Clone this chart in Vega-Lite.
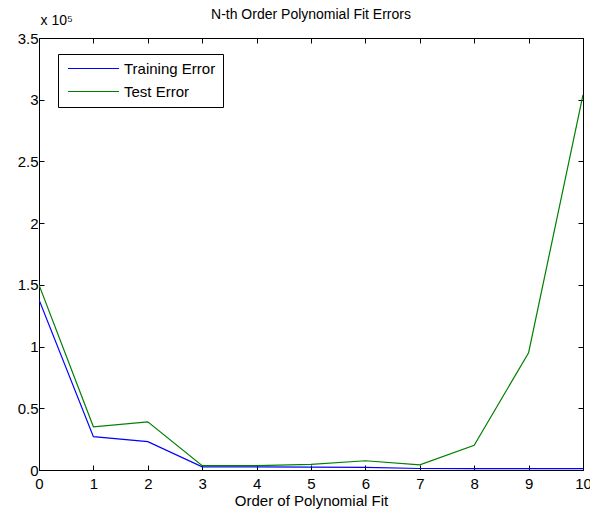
{
  "$schema": "https://vega.github.io/schema/vega-lite/v6.json",
  "width": 544,
  "height": 432,
  "autosize": "none",
  "padding": {"left": 39, "top": 38, "right": 7, "bottom": 46},
  "background": "white",
  "title": {"text": "N-th Order Polynomial Fit Errors", "font": "Liberation Sans", "fontSize": 14, "fontWeight": "normal", "color": "black", "offset": -9},
  "config": {
    "view": {"stroke": "black", "strokeWidth": 1},
    "axis": {"labelFont": "Liberation Sans", "titleFont": "Liberation Sans", "labelColor": "black", "titleColor": "black", "domainColor": "black", "tickColor": "black", "grid": false, "labelFontSize": 15, "titleFontSize": 15, "titleFontWeight": "normal", "tickSize": -5, "labelPadding": 6, "labelOverlap": false, "labelBound": false, "labelFlush": false}
  },
  "data": {"values": [
    {"order": 0, "series": "Training Error", "error": 138000},
    {"order": 1, "series": "Training Error", "error": 27000},
    {"order": 2, "series": "Training Error", "error": 23000},
    {"order": 3, "series": "Training Error", "error": 2500},
    {"order": 4, "series": "Training Error", "error": 2500},
    {"order": 5, "series": "Training Error", "error": 2300},
    {"order": 6, "series": "Training Error", "error": 2200},
    {"order": 7, "series": "Training Error", "error": 1200},
    {"order": 8, "series": "Training Error", "error": 1100},
    {"order": 9, "series": "Training Error", "error": 1100},
    {"order": 10, "series": "Training Error", "error": 1100},
    {"order": 0, "series": "Test Error", "error": 150000},
    {"order": 1, "series": "Test Error", "error": 35000},
    {"order": 2, "series": "Test Error", "error": 39000},
    {"order": 3, "series": "Test Error", "error": 3500},
    {"order": 4, "series": "Test Error", "error": 3500},
    {"order": 5, "series": "Test Error", "error": 4500},
    {"order": 6, "series": "Test Error", "error": 7500},
    {"order": 7, "series": "Test Error", "error": 4200},
    {"order": 8, "series": "Test Error", "error": 20000},
    {"order": 9, "series": "Test Error", "error": 95000},
    {"order": 10, "series": "Test Error", "error": 304000}
  ]},
  "layer": [
    {
      "mark": {"type": "line", "strokeWidth": 1.2, "clip": true},
      "encoding": {
        "x": {"field": "order", "type": "quantitative", "scale": {"domain": [0, 10], "nice": false}, "axis": {"title": "Order of Polynomial Fit", "values": [0,1,2,3,4,5,6,7,8,9,10], "labelPadding": 11, "titlePadding": 2}},
        "y": {"field": "error", "type": "quantitative", "scale": {"domain": [0, 350000], "nice": false}, "axis": {"title": "x 10⁵", "titleAngle": 0, "titleAlign": "left", "titleBaseline": "alphabetic", "titleX": 1, "titleY": -14, "titleFontSize": 14, "values": [0, 50000, 100000, 150000, 200000, 250000, 300000, 350000], "labelExpr": "datum.value / 100000"}},
        "color": {"field": "series", "type": "nominal", "scale": {"domain": ["Training Error", "Test Error"], "range": ["#0000ff", "#008000"]},
          "legend": {"title": null, "orient": "none", "legendX": 19, "legendY": 16, "strokeColor": "black", "fillColor": "white", "padding": 7, "symbolType": "M-4,0H4", "symbolSize": 163, "symbolOffset": 21, "symbolStrokeWidth": 1.2, "labelFont": "Liberation Sans", "labelFontSize": 15, "labelColor": "black", "labelOffset": 23, "rowPadding": 7, "cornerRadius": 0}}
      }
    },
    {
      "mark": {"type": "point", "opacity": 0},
      "encoding": {
        "x": {"field": "order", "type": "quantitative", "scale": {"domain": [0, 10], "nice": false}, "axis": {"orient": "top", "labels": false, "title": null, "domain": false, "values": [0,1,2,3,4,5,6,7,8,9,10]}},
        "y": {"field": "error", "type": "quantitative", "scale": {"domain": [0, 350000], "nice": false}, "axis": {"orient": "right", "labels": false, "title": null, "domain": false, "values": [0, 50000, 100000, 150000, 200000, 250000, 300000, 350000]}}
      }
    }
  ],
  "resolve": {"axis": {"x": "independent", "y": "independent"}}
}
